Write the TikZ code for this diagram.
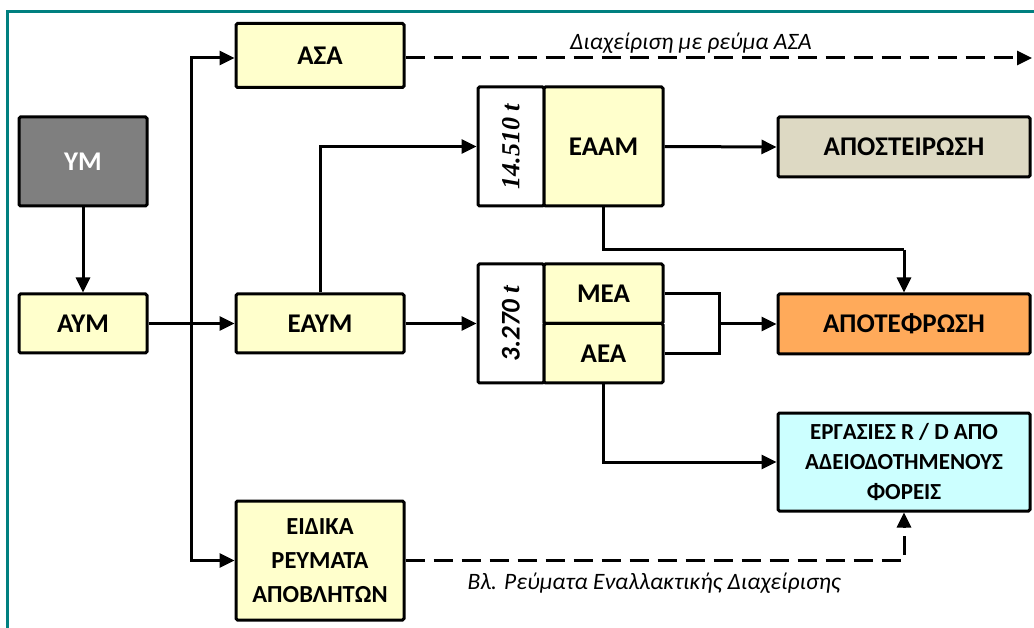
\documentclass[tikz,border=0pt]{standalone}
\usepackage{fontspec}
\setmainfont{Carlito}
\newfontfamily\serifnum{Liberation Serif}
\usetikzlibrary{arrows.meta,calc}
\definecolor{boxyellow}{HTML}{FFFFCC}
\definecolor{boxgrey}{HTML}{7F7F7F}
\definecolor{boxbeige}{HTML}{DDD9C3}
\definecolor{boxorange}{HTML}{FFAA5A}
\definecolor{boxcyan}{HTML}{CCFFFF}
\definecolor{frameteal}{HTML}{008080}
\tikzset{
  x=1pt, y=-1pt,
  boxbase/.style={draw=black, line width=3pt, rounded corners=1.5pt, inner sep=0pt, align=center,
    font=\fontsize{27}{32}\selectfont\bfseries},
  ybox/.style={boxbase, fill=boxyellow},
  smalltxt/.style={font=\fontsize{24.5}{34}\selectfont\bfseries},
  arr/.style={line width=3pt, -{Triangle[length=15pt,width=14pt]}},
  plainline/.style={line width=3pt},
  dasharr/.style={line width=3pt, dash pattern=on 19pt off 9pt, -{Triangle[length=15pt,width=14pt]}},
  lbl/.style={font=\fontsize{23.5}{28}\selectfont\itshape, inner sep=0pt}
}
\begin{document}
\begin{tikzpicture}
\useasboundingbox (0,0) rectangle (1034,628);
\draw[frameteal, line width=3pt] (7,628) -- (7,11.5) -- (1034,11.5);

% nodes
\node[ybox, minimum width=168pt, minimum height=64pt] (asa) at (320,55.5) {ΑΣΑ};
\node[boxbase, fill=boxgrey, text=white, minimum width=128pt, minimum height=89pt] (ym) at (83,161.5) {ΥΜ};
\node[ybox, minimum width=128pt, minimum height=59pt] (aym) at (83,323.5) {ΑΥΜ};
\node[ybox, minimum width=168pt, minimum height=59pt] (eaym) at (320,323.5) {ΕΑΥΜ};
\node[ybox, smalltxt, minimum width=168pt, minimum height=119pt] (eidika) at (320,560.5) {ΕΙΔΙΚΑ\\ΡΕΥΜΑΤΑ\\ΑΠΟΒΛΗΤΩΝ};

\node[boxbase, fill=white, minimum width=66pt, minimum height=119pt] (t1) at (511,146.5)
  {\rotatebox{90}{\fontsize{26}{30}\selectfont\serifnum\bfseries\itshape 14.510 t}};
\node[ybox, minimum width=119pt, minimum height=119pt] (eaam) at (603.5,146.5) {ΕΑΑΜ};

\node[boxbase, fill=white, minimum width=66pt, minimum height=119pt] (t2) at (511,323.5)
  {\rotatebox{90}{\fontsize{27}{30}\selectfont\bfseries\itshape 3.270 {\serifnum t}}};
\node[ybox, minimum width=119pt, minimum height=59.5pt] (mea) at (603.5,293.75) {ΜΕΑ};
\node[ybox, minimum width=119pt, minimum height=59.5pt] (aea) at (603.5,353.25) {ΑΕΑ};

\node[boxbase, fill=boxbeige, minimum width=252pt, minimum height=60pt] (apost) at (904,147) {ΑΠΟΣΤΕΙΡΩΣΗ};
\node[boxbase, fill=boxorange, minimum width=252pt, minimum height=60pt] (apotef) at (904,324) {ΑΠΟΤΕΦΡΩΣΗ};
\node[boxbase, fill=boxcyan, font=\fontsize{23}{30}\selectfont\bfseries, minimum width=252pt, minimum height=98pt] (ergas) at (904,462)
  {ΕΡΓΑΣΙΕΣ R / D ΑΠΟ\\ΑΔΕΙΟΔΟΤΗΜΕΝΟΥΣ\\ΦΟΡΕΙΣ};

% helper coordinates
\coordinate (j) at (191,323.5);
\coordinate (k) at (904,250);
\coordinate (m) at (719,324);
\coordinate (asaend) at (1032,58);
\coordinate (asaout) at (asa.east |- asaend);
\coordinate (asain) at (asa.west |- asaend);

% connectors
\draw[arr] (ym) -- (aym);
\draw[arr] (aym) -- (eaym);
\draw[arr] (j) |- (asain);
\draw[arr] (j) |- (eidika.west);
\draw[arr] (eaym.east) -- (t2.west);
\draw[arr] (eaym.north) |- (t1.west);
\draw[arr] (eaam.east) -- (apost.west);
\draw[plainline] (eaam.south) |- (k);
\draw[arr] (k) -- (apotef.north);
\draw[plainline] (mea.east) -| (m);
\draw[plainline] (aea.east) -| (m);
\draw[arr] (m) -- (apotef.west);
\draw[arr] (aea.south) |- (ergas.west);
\draw[dasharr] (asaout) -- (asaend);
\draw[dasharr] (eidika.east) -| (ergas.south);

% labels
\node[lbl] (l1) at (691,43) {Διαχείριση με ρεύμα ΑΣΑ};
\node[lbl] (l2) at (654,583) {Βλ. Ρεύματα Εναλλακτικής Διαχείρισης};
\end{tikzpicture}
\end{document}
